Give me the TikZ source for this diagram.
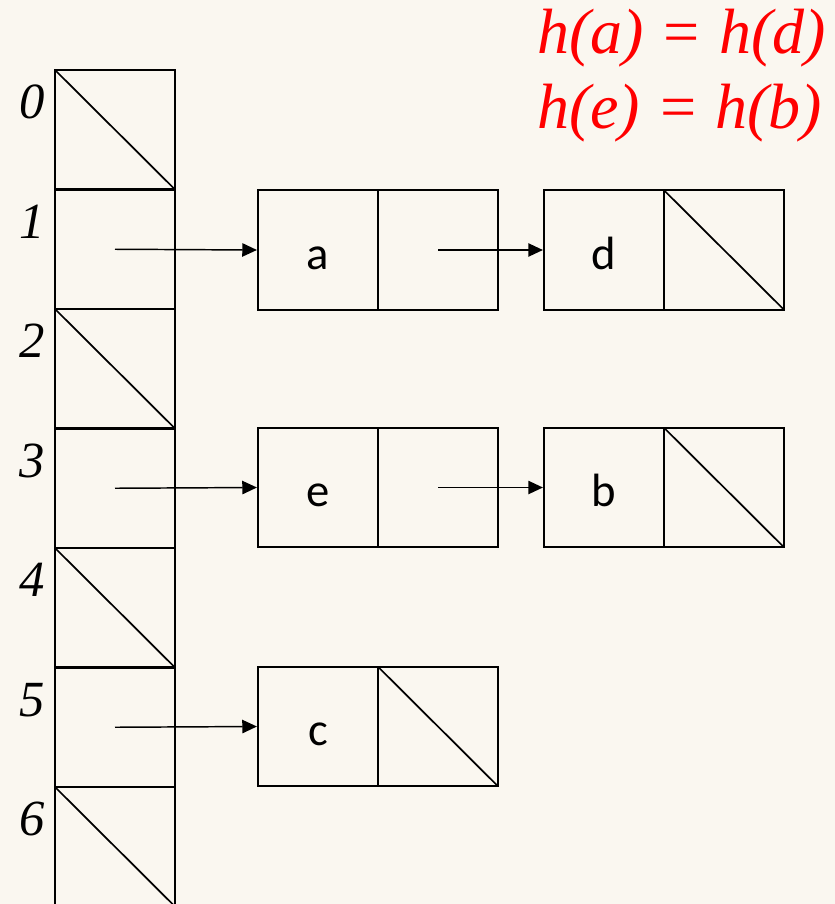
\documentclass[tikz,border=0pt]{standalone}
\usepackage{fontspec}
\setmainfont{Liberation Serif}[ItalicFont={Liberation Serif Italic}]
\newfontfamily\timesit{Liberation Serif Italic}
\newfontfamily\carlito{Carlito}
\usetikzlibrary{arrows.meta}
\definecolor{bg}{RGB}{250,247,240}
\begin{document}
\begin{tikzpicture}[x=0.75pt,y=-0.75pt,
  cell/.style={draw, line width=1.6pt, minimum width=90pt, minimum height=89.6pt, inner sep=0pt, anchor=center},
  nil/.style={cell, path picture={\draw[line width=1.3pt] (path picture bounding box.north west) -- (path picture bounding box.south east);}},
  key/.style={cell, font=\carlito\fontsize{35}{35}\selectfont, text height=28.5pt, text depth=0pt},
  idx/.style={font=\timesit\fontsize{38}{38}\selectfont, anchor=base, inner sep=0pt},
  ptr/.style={-{Triangle[length=11pt,width=10pt]}, line width=1.1pt},
  hash/.style={anchor=base west, inner sep=0pt, text=red, font=\timesit\fontsize{48}{48}\selectfont}]
\fill[bg] (0,0) rectangle (835,904);
\useasboundingbox (0,0) rectangle (835,904);
% hash table
\node[nil]  (t0) at (115,129.75) {};
\node[cell] (t1) at (115,249.25) {};
\node[nil]  (t2) at (115,368.75) {};
\node[cell] (t3) at (115,488.25) {};
\node[nil]  (t4) at (115,607.75) {};
\node[cell] (t5) at (115,727.25) {};
\node[nil]  (t6) at (115,846.75) {};
\node[idx] (l0) at (32,118.75) {0};
\node[idx] (l1) at (32,238.25) {1};
\node[idx] (l2) at (32,357.75) {2};
\node[idx] (l3) at (32,477.25) {3};
\node[idx] (l4) at (32,596.75) {4};
\node[idx] (l5) at (32,716.25) {5};
\node[idx] (l6) at (32,835.75) {6};
% lists
\node[key]  (a)  at (318,250) {a};
\node[cell] (ap) at (438,250) {};
\node[key]  (d)  at (604,250) {d};
\node[nil]  (dp) at (724,250) {};
\node[key]  (e)  at (318,487.5) {e};
\node[cell] (ep) at (438,487.5) {};
\node[key]  (b)  at (604,487.5) {b};
\node[nil]  (bp) at (724,487.5) {};
\node[key]  (c)  at (318,726.5) {c};
\node[nil]  (cp) at (438,726.5) {};
% pointers
\draw[ptr] (t1.center) -- (a.west);
\draw[ptr] (ap.center) -- (d.west);
\draw[ptr] (t3.center) -- (e.west);
\draw[ptr] (ep.center) -- (b.west);
\draw[ptr] (t5.center) -- (c.west);
% hash equalities
\node[hash] (h1) at (537,53) {h(a) = h(d)};
\node[hash] (h2) at (537,128) {h(e) = h(b)};
\end{tikzpicture}
\end{document}
